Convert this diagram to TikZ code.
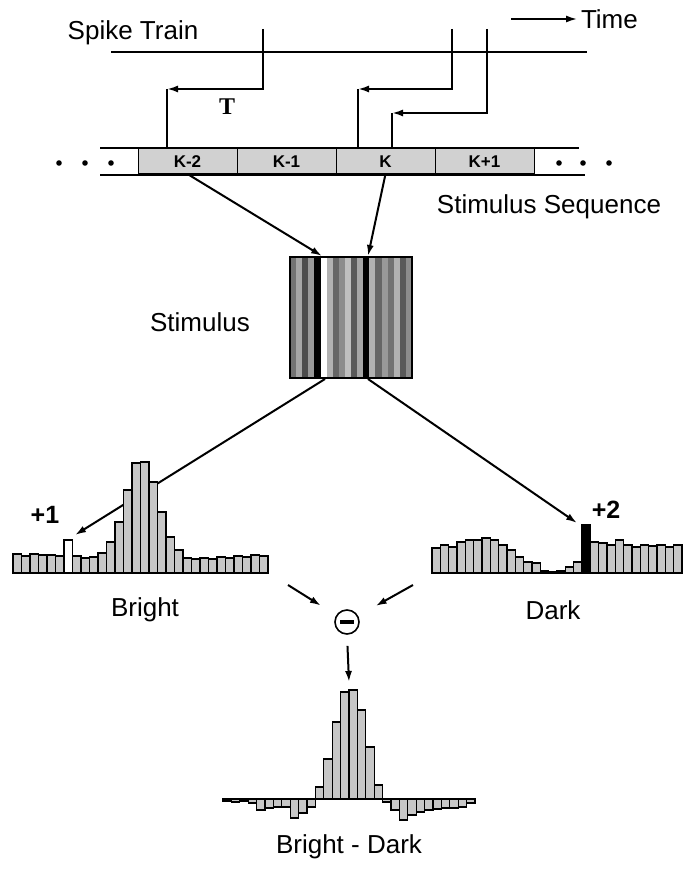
\documentclass[tikz,border=0pt]{standalone}
\usepackage{fontspec}
\setmainfont{Liberation Sans}
\newfontfamily\serifT{Liberation Serif}
\usetikzlibrary{positioning,arrows.meta}

\tikzset{
  lbl/.style={font=\fontsize{26}{30}\selectfont},
  numlbl/.style={font=\fontsize{25}{30}\selectfont\bfseries},
  seqbox/.style={draw,fill=black!18,minimum width=99pt,minimum height=25pt,
    inner sep=0pt,outer sep=0pt,line width=1pt,font=\fontsize{17}{20}\selectfont\bfseries},
  hbar/.style={draw,fill=black!22,line width=1.3pt},
  wire/.style={line width=2pt},
}

\begin{document}
\begin{tikzpicture}[x=1pt,y=-1pt,line width=1.4pt,>={Latex[length=11pt,width=7pt]}]
\useasboundingbox (0,0) rectangle (684,874);

% spike train and time axis
\node[lbl] (spk) at (133,33) {Spike Train};
\node[lbl,anchor=west] (time) at (577,19) {Time};
\coordinate (t0) at (511,19);
\draw[->,line width=1.6pt] (t0) -- (time.west);
\coordinate (trA) at (111,52);
\coordinate (trB) at (587,52);
\draw[wire] (trA) -- (trB);
\coordinate (s1) at (263,29);
\coordinate (s2) at (452,29);
\coordinate (s3) at (487,29);
\coordinate (c1) at (167,89);
\coordinate (c2) at (358,89);
\coordinate (c3) at (392,113);
\node[font={\fontsize{24}{28}\selectfont\serifT\bfseries}] (tlbl) at (227,107) {T};

% stimulus sequence
\node[seqbox] (k2) at (187.5,161.5) {K-2};
\node[seqbox,right=0pt of k2] (k1) {K-1};
\node[seqbox,right=0pt of k1] (k0) {K};
\node[seqbox,right=0pt of k0] (k3) {K+1};
\draw[wire] (100,148) -- (579,148);
\draw[wire] (100,175) -- (585,175);
\foreach \x in {59,85,111,559,583,609}
  \fill (\x,163) circle (2.8pt);
\node[lbl] (seqlbl) at (549,207) {Stimulus Sequence};

\draw[wire,->] (s1) |- (c1);
\draw[wire,->] (s2) |- (c2);
\draw[wire,->] (s3) |- (c3);
\draw[wire] (c1) -- (c1 |- k2.north);
\draw[wire] (c2) -- (c2 |- k0.north);
\draw[wire] (c3) -- (c3 |- k0.north);

% stimulus
\foreach \c [count=\i from 0] in {black!55,black!35,black!70,black!40,black,white,black!30,black!60,
  black!45,black!25,black!65,black!35,black,black!30,black!60,black!40,black!55,black!30,black!65,black!45}
  \fill[\c] ({290+6.1*\i},257) rectangle ++(6.1,121);
\node[draw,line width=2pt,minimum width=122pt,minimum height=121pt,inner sep=0pt] (stim) at (351,317.5) {};
\node[lbl] (stimlbl) at (200,322) {Stimulus};
\draw[wire,->] (k2.south) -- ([xshift=-29pt]stim.north);
\draw[wire,->] (k0.south) -- ([xshift=17pt]stim.north);

\coordinate (p1) at (75,535);
\coordinate (p2) at (577,523);
\draw[wire,->] ([xshift=-26pt]stim.south) -- (p1);
\draw[wire,->] ([xshift=17pt]stim.south) -- (p2);

% bright histogram
\foreach \h [count=\k from 0] in {19,17,19,18,18,17,33,17,15,16,20,31,51,83,110,111,91,61,36,23,15,14,15,14,16,15,17,16,18,17}
  \draw[hbar] ({13+8.5*\k},573) rectangle ++(8.5,-\h);
\draw[hbar,fill=white] (64,573) rectangle ++(8.5,-33);
\node[numlbl] (one) at (45,515) {+1};
\node[lbl] (bright) at (145,610) {Bright};

% dark histogram
\foreach \h [count=\k from 0] in {25,28,26,31,33,33,35,33,28,23,16,11,10,2,1,2,6,11,48,31,30,28,33,28,26,28,27,28,26,28}
  \draw[hbar] ({432+8.33*\k},573) rectangle ++(8.33,-\h);
\draw[hbar,fill=black] (581.94,573) rectangle ++(8.33,-48);
\node[numlbl] (two) at (606,510) {+2};
\node[lbl] (dark) at (553,610) {Dark};

% difference
\node[draw,circle,line width=1.6pt,minimum size=24pt,inner sep=0pt] (minus) at (347,622) {};
\draw[line width=3.2pt] ([xshift=-7pt]minus.center) -- ([xshift=7pt]minus.center);
\coordinate (m1) at (288,585);
\coordinate (m2) at (413,585);
\coordinate (bd) at (349,682);
\draw[wire,->,shorten >=18pt] (m1) -- (minus);
\draw[wire,->,shorten >=20pt] (m2) -- (minus);
\draw[wire,->,shorten <=11pt] (minus.south) -- (bd);

\foreach \h [count=\k from 0] in {-2,-3,-2,-4,-11,-9,-8,-8,-19,-14,-8,12,40,77,107,109,89,52,14,-3,-11,-21,-16,-13,-11,-10,-9,-9,-8,-4}
  \draw[hbar] ({223+8.4*\k},799) rectangle ++(8.4,-\h);
\draw[wire] (223,799) -- (475,799);
\node[lbl] (bdlbl) at (349,847) {Bright - Dark};
\end{tikzpicture}
\end{document}
